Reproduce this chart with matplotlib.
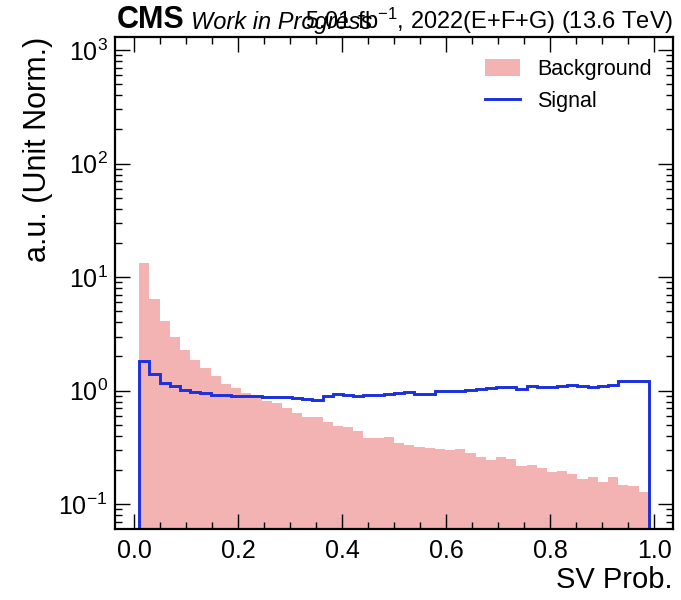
import numpy as np
import matplotlib
matplotlib.use("Agg")
import matplotlib.pyplot as plt
from matplotlib.patches import Patch
from matplotlib.lines import Line2D
from matplotlib.ticker import MultipleLocator, LogLocator, NullFormatter

plt.rcParams['font.family'] = ['Liberation Sans', 'DejaVu Sans']
plt.rcParams['mathtext.fontset'] = 'custom'
plt.rcParams['mathtext.rm'] = 'Liberation Sans'
plt.rcParams['mathtext.it'] = 'Liberation Sans:italic'
plt.rcParams['mathtext.bf'] = 'Liberation Sans:bold'

# 50 bins of SV probability, 0.01 .. 0.99
bin_lo = 0.01
bin_hi = 0.99
n_bins = 50

background = [13.3, 6.4, 4.1, 3.0, 2.3, 1.88, 1.57, 1.34, 1.15, 1.06,
              0.95, 0.87, 0.81, 0.78, 0.70, 0.64, 0.59, 0.585, 0.53, 0.485,
              0.48, 0.44, 0.38, 0.38, 0.39, 0.345, 0.335, 0.32, 0.31, 0.306,
              0.30, 0.306, 0.283, 0.263, 0.247, 0.263, 0.25, 0.215, 0.223, 0.21,
              0.193, 0.197, 0.186, 0.166, 0.175, 0.157, 0.172, 0.149, 0.145, 0.127]

signal = [1.81, 1.39, 1.17, 1.10, 1.02, 0.98, 0.95, 0.92, 0.91, 0.90,
          0.90, 0.89, 0.88, 0.875, 0.875, 0.86, 0.85, 0.83, 0.89, 0.93,
          0.91, 0.89, 0.92, 0.91, 0.94, 0.95, 0.97, 0.94, 0.94, 0.99,
          0.99, 1.0, 1.01, 1.04, 1.05, 1.07, 1.07, 1.04, 1.11, 1.07,
          1.08, 1.10, 1.13, 1.10, 1.07, 1.09, 1.12, 1.22, 1.22, 1.22]

edges = np.linspace(bin_lo, bin_hi, n_bins + 1)

bkg_color = '#f4b3b3'
sig_color = '#1a2fe0'

fig = plt.figure(figsize=(6.81, 6.0), dpi=100)
ax = fig.add_axes([114.5 / 681, 1 - 529 / 600, 558.5 / 681, (529 - 37) / 600])

ax.stairs(background, edges, fill=True, baseline=1e-4, color=bkg_color, linewidth=0)
ax.stairs(signal, edges, fill=False, baseline=1e-4, color=sig_color, linewidth=2.1)

ax.set_yscale('log')
ax.set_xlim(-0.0375, 1.0365)
ax.set_ylim(0.0605, 1303)

ax.xaxis.set_major_locator(MultipleLocator(0.2))
ax.xaxis.set_minor_locator(MultipleLocator(0.05))
ax.yaxis.set_major_locator(LogLocator(base=10, numticks=10))
ax.yaxis.set_minor_locator(LogLocator(base=10, subs=np.arange(2, 10), numticks=20))
ax.yaxis.set_minor_formatter(NullFormatter())

ax.tick_params(which='both', direction='in', top=True, right=True, labelsize=18)
ax.tick_params(which='major', length=11, width=1)
ax.tick_params(which='minor', length=5, width=1)
ax.tick_params(axis='x', pad=7)
ax.tick_params(axis='y', pad=5)
for s in ax.spines.values():
    s.set_linewidth(1.6)

ax.set_xlabel('SV Prob.', fontsize=21, loc='right', labelpad=2)
ax.set_ylabel('a.u. (Unit Norm.)', fontsize=22, loc='top', labelpad=4)

handles = [Patch(facecolor=bkg_color, edgecolor='none'),
           Line2D([0], [0], color=sig_color, linewidth=2.1)]
ax.legend(handles, ['Background', 'Signal'], loc='upper right', frameon=False,
          fontsize=15.5, handlelength=1.6, handleheight=0.9, labelspacing=0.5,
          borderaxespad=0.6)

fig.text(117 / 681, 1 - 28.5 / 600, 'CMS', fontsize=22, fontweight='bold', va='baseline')
fig.text(191 / 681, 1 - 28.5 / 600, 'Work in Progress', fontsize=17, style='italic', va='baseline')
fig.text(673 / 681, 1 - 28.5 / 600, r'5.01 fb$^{-1}$, 2022(E+F+G) (13.6 TeV)', fontsize=17,
         ha='right', va='baseline')

fig.savefig('out.png', dpi=100)
